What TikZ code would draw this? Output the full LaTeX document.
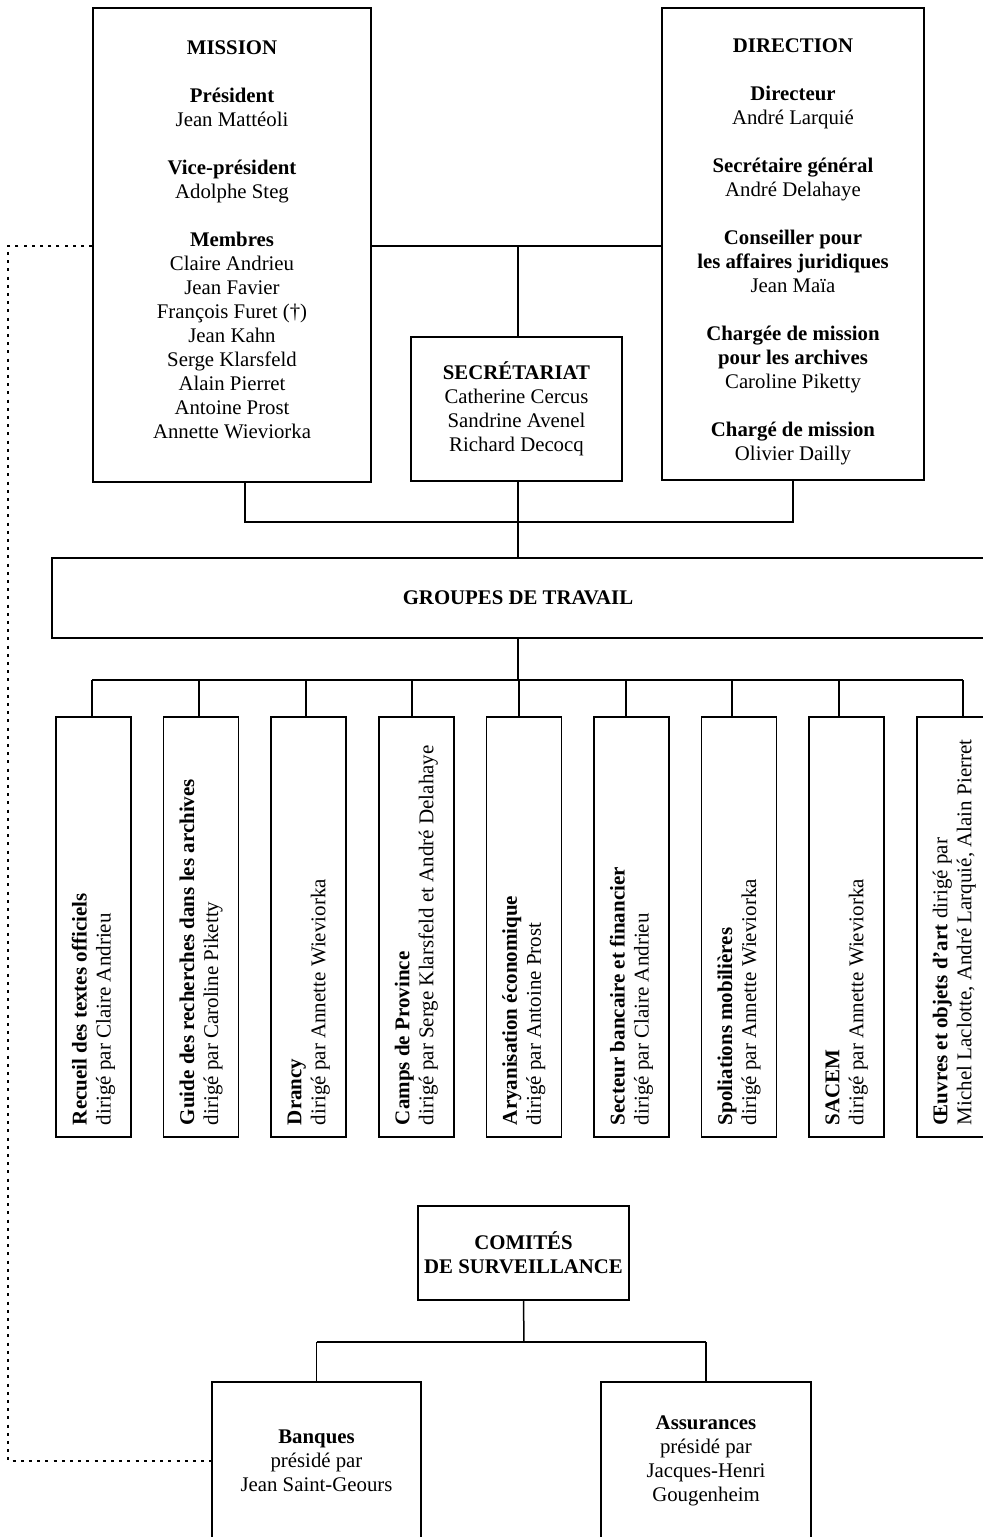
\documentclass[tikz,border=0pt]{standalone}
\usepackage{fontspec}
\setmainfont{Liberation Serif}

\begin{document}
\begin{tikzpicture}[x=0.5pt,y=-0.5pt,
  box/.style={draw,line width=0.75pt,align=center,inner sep=2pt,font=\fontsize{10.4}{12}\selectfont},
  grp/.style={draw,line width=0.75pt,rotate=90,align=flush left,inner xsep=6pt,inner ysep=0pt,
    text width=198pt,minimum height=37.5pt,font=\fontsize{10.5}{12}\selectfont},
  link/.style={line width=0.75pt},
  dots/.style={line width=0.8pt,dash pattern=on 1.5pt off 2.6pt}]
\useasboundingbox (0,0) rectangle (983,1537);
\coordinate (mdj) at (518,246);
\coordinate (tbar) at (518,522);
\coordinate (gbar) at (518,680);
\coordinate (cbar) at (524,1342);
\coordinate (dl) at (8,0);

% The top boxes
\node[box,minimum width=139pt,minimum height=237pt] (mission) at (232,245) {%
  \textbf{MISSION}\\[12pt]
  \textbf{Président}\\Jean Mattéoli\\[12pt]
  \textbf{Vice-président}\\Adolphe Steg\\[12pt]
  \textbf{Membres}\\Claire Andrieu\\Jean Favier\\François Furet (†)\\Jean Kahn\\
  Serge Klarsfeld\\Alain Pierret\\Antoine Prost\\Annette Wieviorka\rule[-5pt]{0pt}{5pt}};
\node[box,minimum width=131pt,minimum height=236pt] (direction) at (793,244) {%
  \rule{0pt}{15pt}\textbf{DIRECTION}\\[12pt]
  \textbf{Directeur}\\André Larquié\\[12pt]
  \textbf{Secrétaire général}\\André Delahaye\\[12pt]
  \textbf{Conseiller pour}\\\textbf{les affaires juridiques}\\Jean Maïa\\[12pt]
  \textbf{Chargée de mission}\\\textbf{pour les archives}\\Caroline Piketty\\[12pt]
  \textbf{Chargé de mission}\\Olivier Dailly};
\node[box,minimum width=105.5pt,minimum height=72pt] (secr) at (516.5,409) {%
  \textbf{SECRÉTARIAT}\\Catherine Cercus\\Sandrine Avenel\\Richard Decocq};
\node[box,minimum width=466pt,minimum height=40pt] (groupes) at (518,598)
  {\textbf{GROUPES DE TRAVAIL}};

% The working groups
\foreach \i/\txt in {
  1/{\textbf{Recueil des textes officiels}\\dirigé par Claire Andrieu},
  2/{\textbf{Guide des recherches dans les archives}\\dirigé par Caroline Piketty},
  3/{\textbf{Drancy}\\dirigé par Annette Wieviorka},
  4/{\textbf{Camps de Province}\\dirigé par Serge Klarsfeld et André Delahaye},
  5/{\textbf{Aryanisation économique}\\dirigé par Antoine Prost},
  6/{\textbf{Secteur bancaire et financier}\\dirigé par Claire Andrieu},
  7/{\textbf{Spoliations mobilières}\\dirigé par Annette Wieviorka},
  8/{\textbf{SACEM}\\dirigé par Annette Wieviorka},
  9/{\textbf{Œuvres et objets d'art} dirigé par\\Michel Laclotte, André Larquié, Alain Pierret}}
  \node[grp] (g\i) at ({93.5+107.6*(\i-1)},927) {\txt};

% The committees
\node[box,minimum width=105.5pt,minimum height=47pt] (comites) at (523.5,1253)
  {\textbf{COMITÉS}\\\textbf{DE SURVEILLANCE}};
\node[box,minimum width=104.5pt,minimum height=79pt] (banques) at (316.5,1461)
  {\textbf{Banques}\\présidé par\\Jean Saint-Geours};
\node[box,minimum width=105pt,minimum height=79pt] (assur) at (706,1461)
  {\textbf{Assurances}\\présidé par\\Jacques-Henri\\Gougenheim};

% The links
\draw[link] (mission.east |- mdj) -- (direction.west |- mdj);
\draw[link] (mdj) -- (mdj |- secr.north);
\draw[link] ([xshift=6.5pt]mission.south) -- ([xshift=6.5pt]mission.south |- tbar)
  -- (direction.south |- tbar) -- (direction.south);
\draw[link] (tbar |- secr.south) -- (tbar |- groupes.north);
\draw[link] (groupes.south) -- (gbar);
\draw[link] ([xshift=-0.75pt]g1.east |- gbar) -- ([xshift=4.35pt]g9.east |- gbar);
\foreach \i/\s in {1/-0.75,2/-1,3/-1.35,4/-2.15,5/-2.45,6/-2.75,7/-3.5,8/-3.85,9/4.35}
  \draw[link] ([xshift=\s pt]g\i.east |- gbar) -- ([xshift=\s pt]g\i.east);
\draw[link] (comites.south) -- (cbar);
\draw[link] (banques.north |- cbar) -- (assur.north |- cbar);
\draw[link] (banques.north |- cbar) -- (banques.north);
\draw[link] (assur.north |- cbar) -- (assur.north);
\draw[dots] (mission.west |- mdj) -- (dl |- mdj) -- (dl |- banques.west) -- (banques.west);
\end{tikzpicture}
\end{document}
